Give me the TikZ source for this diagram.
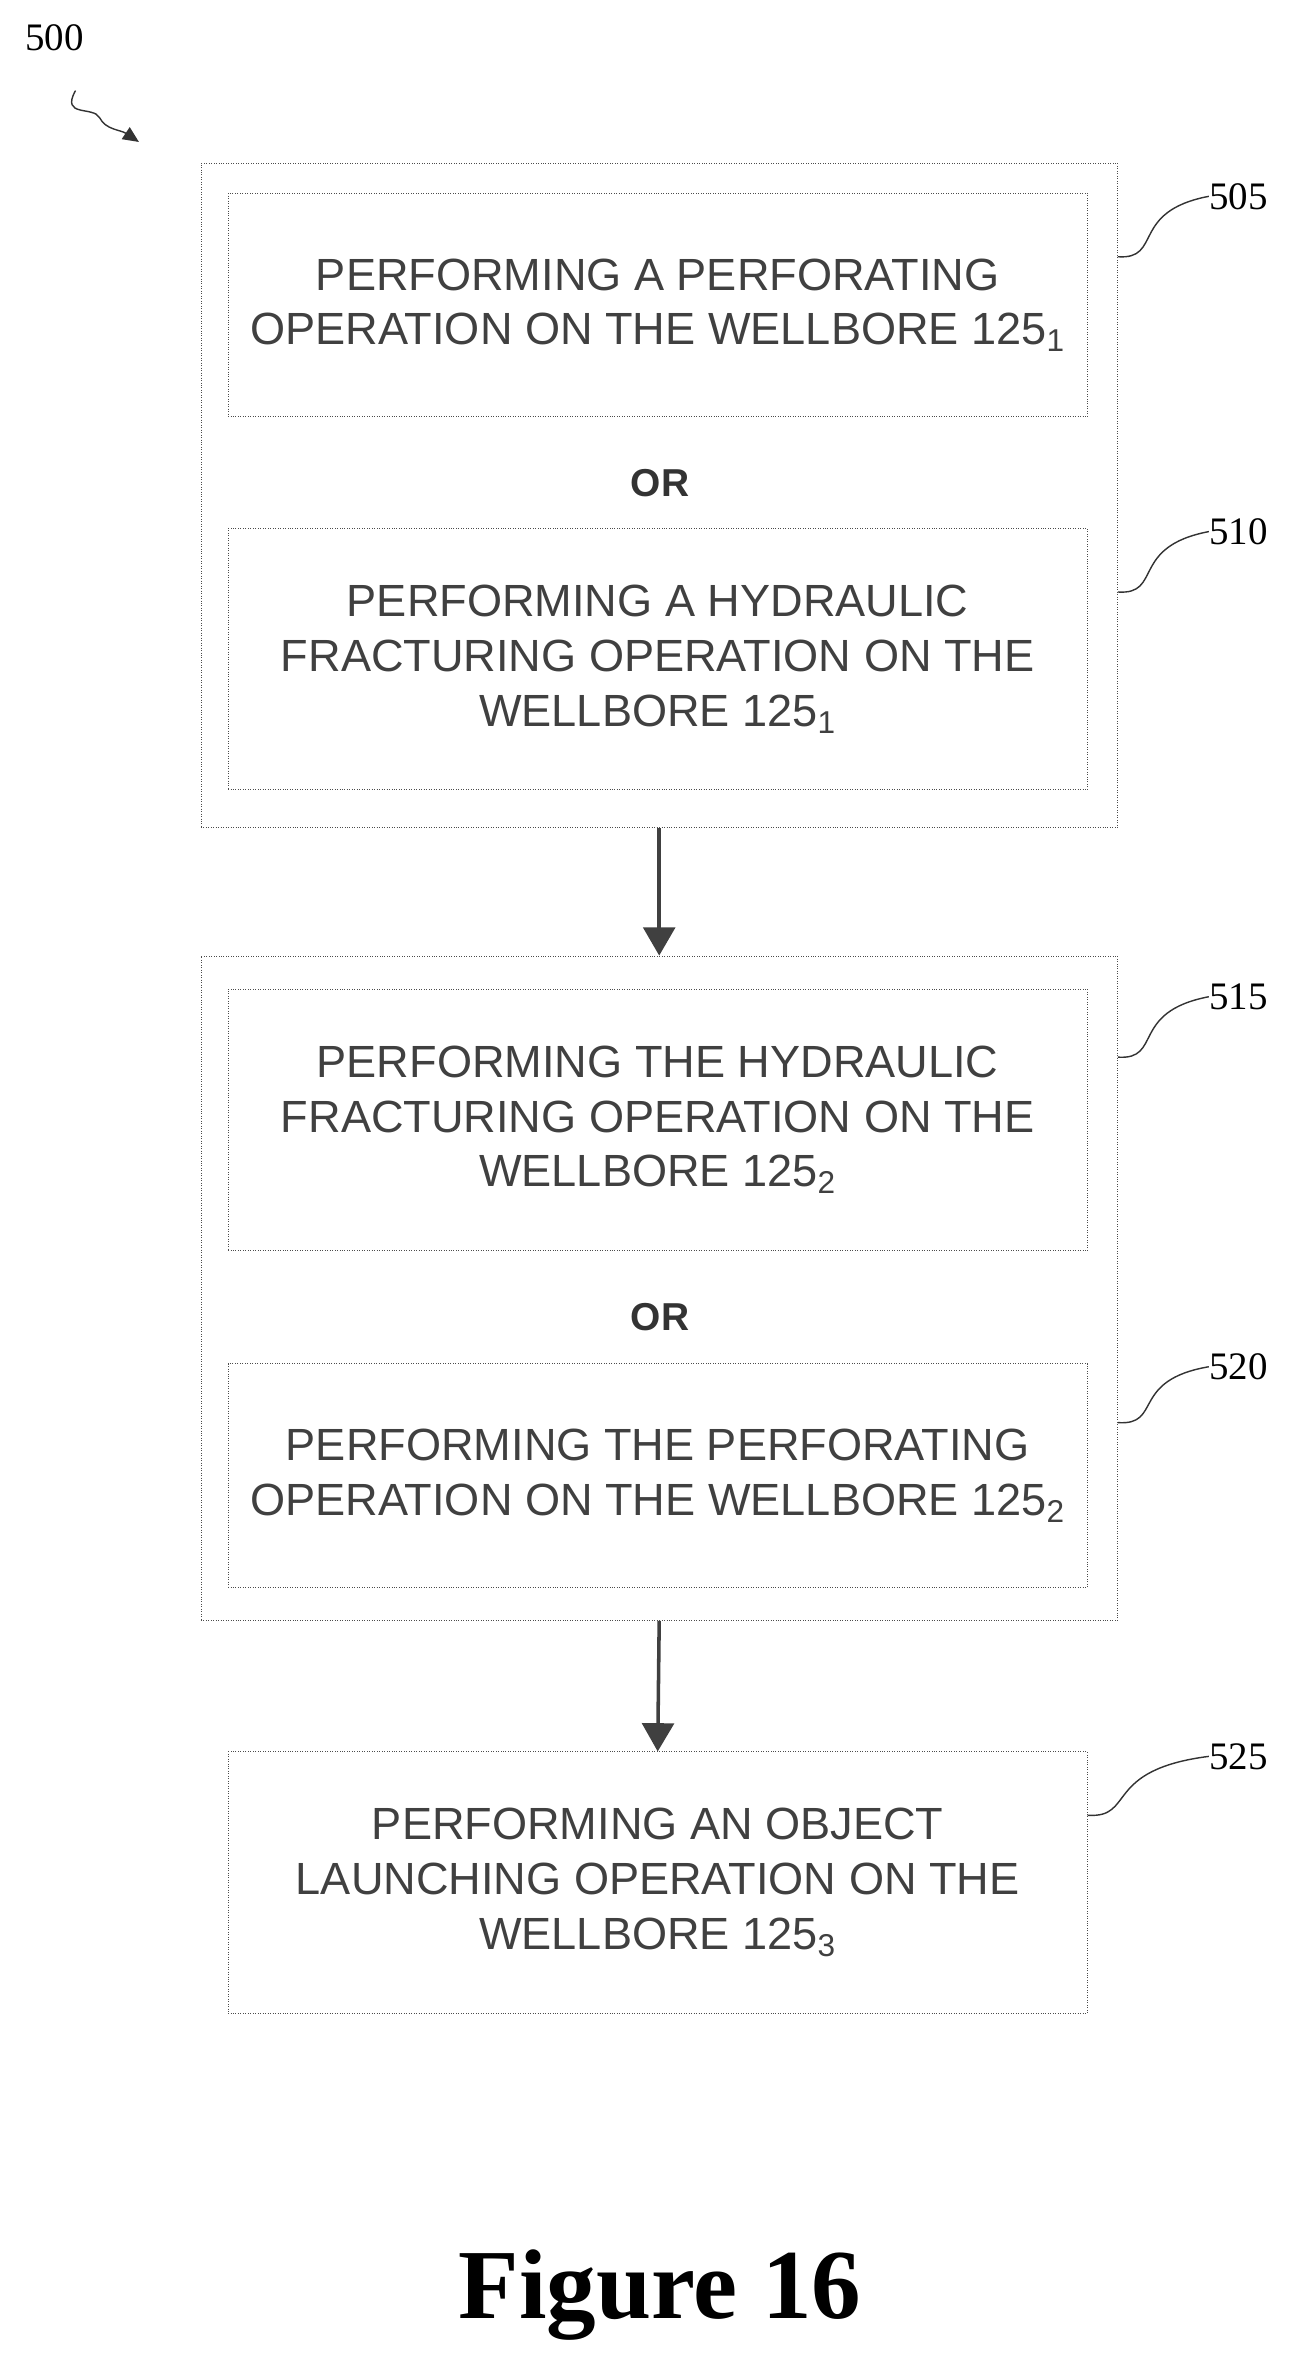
\documentclass[tikz,border=0pt]{standalone}
\usepackage{fontspec}
\setmainfont{Liberation Serif}
\newfontfamily\boxfont{Liberation Sans}
\usetikzlibrary{positioning,arrows.meta}

\begin{document}
\begin{tikzpicture}[x=0.03cm,y=-0.03cm,inner sep=0pt]
\tikzstyle{stepbox}=[rectangle, draw=black!70, densely dotted, thin, minimum width=569*0.03cm, align=center, font=\boxfont\fontsize{25.5}{31}\selectfont, text=black!75]
\tikzstyle{group}=[rectangle, draw=black!70, densely dotted, thin, minimum width=607*0.03cm]
\tikzstyle{ref}=[font=\fontsize{22}{22}\selectfont]
\tikzstyle{leader}=[thick, black!80]
\tikzstyle{connect}=[line width=2pt, black!75, -{Triangle[length=16pt,width=18pt]}]
\useasboundingbox (0,0) rectangle (855,1570);
% outer groups
\node[group, minimum height=440*0.03cm] (g1) at (436.5,328) {};
\node[group, minimum height=440*0.03cm] (g2) at (436.5,853) {};
% steps
\node[stepbox, minimum height=148*0.03cm] (s505) at (435.5,202) {PERFORMING A PERFORATING\\OPERATION ON THE WELLBORE 125\textsubscript{1}};
\node[stepbox, minimum height=173*0.03cm] (s510) at (435.5,436.5) {PERFORMING A HYDRAULIC\\FRACTURING OPERATION ON THE\\WELLBORE 125\textsubscript{1}};
\node[stepbox, minimum height=173*0.03cm] (s515) at (435.5,741.5) {PERFORMING THE HYDRAULIC\\FRACTURING OPERATION ON THE\\WELLBORE 125\textsubscript{2}};
\node[stepbox, minimum height=148*0.03cm] (s520) at (435.5,977) {PERFORMING THE PERFORATING\\OPERATION ON THE WELLBORE 125\textsubscript{2}};
\node[stepbox, minimum height=173*0.03cm] (s525) at (435.5,1246.5) {PERFORMING AN OBJECT\\LAUNCHING OPERATION ON THE\\WELLBORE 125\textsubscript{3}};
\node[font=\boxfont\bfseries\fontsize{22}{22}\selectfont, text=black!80] (or1) at (437,320) {OR};
\node[font=\boxfont\bfseries\fontsize{22}{22}\selectfont, text=black!80] (or2) at (437,872) {OR};
% arrows
\draw[connect] (g1.south) -- (g2.north);
\draw[connect] (g2.south) -- (s525.north);
% reference numerals
\node[ref] (l500) at (36,25) {500};
\node[ref] (l505) at (820,130) {505};
\node[ref] (l510) at (820,352) {510};
\node[ref] (l515) at (820,660) {515};
\node[ref] (l520) at (820,905) {520};
\node[ref] (l525) at (820,1163) {525};
\coordinate (c500) at (92,94);
\draw[leader,-{Triangle[length=9pt,width=8pt]}] (50,60) .. controls (40,78) and (62,70) .. (66,78) .. controls (70,86) and (80,86) .. (c500);
\draw[leader] (g1.east |- 0,170) .. controls (770,172) and (748,140) .. (l505.west);
\draw[leader] (g1.east |- 0,392) .. controls (770,394) and (748,362) .. (l510.west);
\draw[leader] (g2.east |- 0,700) .. controls (770,702) and (748,670) .. (l515.west);
\draw[leader] (g2.east |- 0,942) .. controls (770,944) and (748,914) .. (l520.west);
\draw[leader] (s525.east |- 0,1202) .. controls (752,1204) and (730,1172) .. (l525.west);
% caption
\node[font=\bfseries\fontsize{56}{56}\selectfont] (cap) at (437,1520) {Figure 16};
\end{tikzpicture}
\end{document}
